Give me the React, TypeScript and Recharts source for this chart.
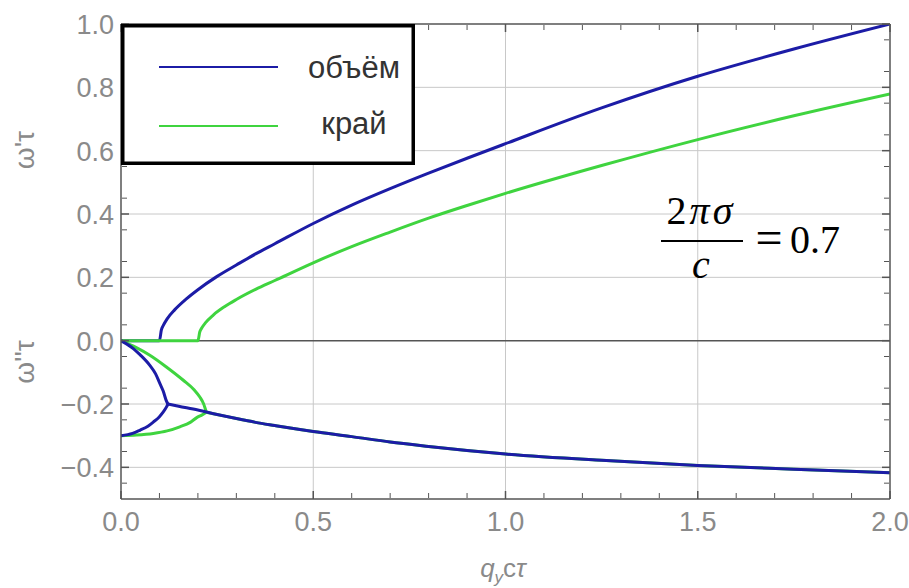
import React from 'react';
import { LineChart, Line, XAxis, YAxis, CartesianGrid, ReferenceLine, Legend } from 'recharts';

// axis ticks
const xTicks = [0, 0.5, 1, 1.5, 2];
const xMinorTicks = [0.1, 0.2, 0.3, 0.4, 0.6, 0.7, 0.8, 0.9, 1.1, 1.2, 1.3, 1.4, 1.6, 1.7, 1.8, 1.9];
const yTicks = [-0.4, -0.2, 0, 0.2, 0.4, 0.6, 0.8, 1];
const yMinorTicks = [
    -0.45, -0.35, -0.3, -0.25, -0.15, -0.1, -0.05, 0.05, 0.1, 0.15, 0.25, 0.3, 0.35,
    0.45, 0.5, 0.55, 0.65, 0.7, 0.75, 0.85, 0.9, 0.95,
];
const gridX = [0.5, 1, 1.5];
const gridY = [-0.4, -0.2, 0.2, 0.4, 0.6, 0.8];
const legendNames = ['объём', 'край'];

// объём (bulk), real part  [q, ω'τ]
const bulkRe = [
    [0, 0], [0.1, 0], [0.105, 0.034], [0.11, 0.048], [0.12, 0.069], [0.14, 0.098], [0.17, 0.132],
    [0.2, 0.161], [0.25, 0.203], [0.3, 0.239], [0.35, 0.274], [0.4, 0.306], [0.5, 0.37],
    [0.6, 0.428], [0.7, 0.48], [0.8, 0.529], [0.9, 0.576], [1.0, 0.622], [1.25, 0.735],
    [1.5, 0.835], [1.75, 0.921], [2.0, 1.0],
];
// край (edge), real part
const edgeRe = [
    [0, 0], [0.2, 0], [0.205, 0.028], [0.21, 0.04], [0.22, 0.057], [0.24, 0.081], [0.27, 0.108],
    [0.3, 0.13], [0.35, 0.162], [0.4, 0.19], [0.5, 0.246], [0.6, 0.297], [0.7, 0.343],
    [0.8, 0.387], [0.9, 0.427], [1.0, 0.465], [1.25, 0.553], [1.5, 0.635], [1.75, 0.71], [2.0, 0.779],
];

// imaginary parts (ω''τ): two branches meeting, then one common tail
const bulkImUpper = [
    [0, 0], [0.032, -0.025], [0.05, -0.045], [0.075, -0.078], [0.09, -0.105], [0.101, -0.135],
    [0.11, -0.16], [0.118, -0.19], [0.122, -0.2],
];
const bulkImLower = [
    [0, -0.3], [0.03, -0.293], [0.049, -0.283], [0.07, -0.27], [0.084, -0.257], [0.1, -0.24],
    [0.11, -0.225], [0.118, -0.21], [0.122, -0.2],
];
const bulkImTail = [
    [0.122, -0.2], [0.15, -0.207], [0.2, -0.219], [0.25, -0.233], [0.3, -0.246], [0.35, -0.258],
    [0.4, -0.268], [0.5, -0.287], [0.6, -0.303], [0.7, -0.32], [0.8, -0.334], [0.9, -0.347],
    [1.0, -0.358], [1.25, -0.378], [1.5, -0.394], [1.75, -0.406], [2.0, -0.417],
];
const edgeImUpper = [
    [0, 0], [0.04, -0.022], [0.075, -0.046], [0.118, -0.083], [0.162, -0.125], [0.19, -0.155],
    [0.205, -0.178], [0.215, -0.2], [0.222, -0.226],
];
const edgeImLower = [
    [0, -0.3], [0.04, -0.298], [0.084, -0.293], [0.12, -0.285], [0.153, -0.272], [0.18, -0.258],
    [0.197, -0.243], [0.21, -0.235], [0.222, -0.226],
];
const edgeImTail = [
    [0.222, -0.226], [0.25, -0.233], [0.3, -0.246], [0.35, -0.258], [0.4, -0.268], [0.5, -0.287],
    [0.6, -0.303], [0.7, -0.32], [0.8, -0.334], [0.9, -0.347], [1.0, -0.358], [1.25, -0.378],
    [1.5, -0.394], [1.75, -0.406], [2.0, -0.417],
];

const BLUE = '#1c1ca6';
const GREEN = '#3fd43f';
const FRAME = '#555555';
const LABEL = '#8a8a8a';
const SANS = '"Liberation Sans", Arial, sans-serif';

const pts = (p: number[][]) => p.map(([x, y]) => ({ x, y }));
const fmt = (v: number) => (v < 0 ? '\u2212' : '') + Math.abs(v).toFixed(1);

const XTick = (props: any) => (
    <text x={props.x} y={props.y + 42} textAnchor="middle" fill={LABEL} fontSize={27} fontFamily={SANS}>
        {fmt(props.payload.value)}
    </text>
);
const YTick = (props: any) => (
    <text x={props.x - 17} y={props.y + 10} textAnchor="end" fill={LABEL} fontSize={27} fontFamily={SANS}>
        {fmt(props.payload.value)}
    </text>
);
const NoTick = () => <g />;

const LegendBox = (props: any) => {
    const payload = props.payload || [];
    const rows = [{ line: 43, text: 54 }, { line: 102, text: 110 }];
    return (
        <svg width={294} height={141} style={{ display: 'block' }}>
            <rect x={1.75} y={1.75} width={290.5} height={137.5} fill="#fff" stroke="#000" strokeWidth={3.5} />
            {legendNames.map((name, i) => {
                const it = payload.find((p: any) => p.value === name);
                const color = it ? it.color : i === 0 ? BLUE : GREEN;
                return (
                    <g key={name}>
                        <line x1={38} x2={157} y1={rows[i].line} y2={rows[i].line} stroke={color} strokeWidth={2} />
                        <text x={233} y={rows[i].text} textAnchor="middle" fill="#333" fontSize={31} fontFamily={SANS}>
                            {name}
                        </text>
                    </g>
                );
            })}
        </svg>
    );
};

const lineProps = {
    xAxisId: 'x',
    yAxisId: 'y',
    dataKey: 'y',
    type: 'monotone' as const,
    dot: false,
    activeDot: false,
    strokeWidth: 3,
    isAnimationActive: false,
};

// every axis is mirrored with a 1px size, so they all sit on the plot frame
const xAxisBase = {
    dataKey: 'x',
    type: 'number' as const,
    domain: [0, 2],
    allowDataOverflow: true,
    mirror: true,
    height: 1,
    stroke: FRAME,
};
const yAxisBase = {
    type: 'number' as const,
    domain: [-0.5, 1],
    allowDataOverflow: true,
    mirror: true,
    width: 1,
    stroke: FRAME,
};

export default function App() {
    return (
        <div style={{ position: 'absolute', left: 0, top: 0, width: 909, height: 588, background: '#fff' }}>
            <LineChart width={909} height={588} margin={{ top: 24, right: 19, bottom: 89, left: 121 }}>
                <CartesianGrid
                    xAxisId="x"
                    yAxisId="y"
                    stroke="#c8c8c8"
                    horizontalValues={gridY}
                    verticalValues={gridX}
                />
                <XAxis xAxisId="x" {...xAxisBase} ticks={xTicks} tickSize={8} tick={XTick} strokeWidth={1.5} />
                <XAxis xAxisId="xm" {...xAxisBase} ticks={xMinorTicks} tickSize={5} tick={NoTick} axisLine={false} />
                <XAxis xAxisId="xt" orientation="top" {...xAxisBase} ticks={xTicks} tickSize={8} tick={NoTick} strokeWidth={1.5} />
                <XAxis xAxisId="xtm" orientation="top" {...xAxisBase} ticks={xMinorTicks} tickSize={5} tick={NoTick} axisLine={false} />
                <YAxis yAxisId="y" {...yAxisBase} ticks={yTicks} tickSize={8} tick={YTick} strokeWidth={1.5} />
                <YAxis yAxisId="ym" {...yAxisBase} ticks={yMinorTicks} tickSize={5} tick={NoTick} axisLine={false} />
                <YAxis yAxisId="yr" orientation="right" {...yAxisBase} ticks={yTicks} tickSize={8} tick={NoTick} strokeWidth={1.5} />
                <YAxis yAxisId="yrm" orientation="right" {...yAxisBase} ticks={yMinorTicks} tickSize={5} tick={NoTick} axisLine={false} />

                <ReferenceLine xAxisId="x" yAxisId="y" y={0} stroke={FRAME} strokeWidth={1.5} />

                <Line {...lineProps} data={pts(bulkRe)} name="объём" stroke={BLUE} />
                <Line {...lineProps} data={pts(edgeRe)} name="край" stroke={GREEN} />
                <Line {...lineProps} data={pts(edgeImUpper)} stroke={GREEN} legendType="none" />
                <Line {...lineProps} data={pts(edgeImLower)} stroke={GREEN} legendType="none" />
                <Line {...lineProps} data={pts(edgeImTail)} stroke={GREEN} legendType="none" />
                <Line {...lineProps} data={pts(bulkImUpper)} stroke={BLUE} legendType="none" />
                <Line {...lineProps} data={pts(bulkImLower)} stroke={BLUE} legendType="none" />
                <Line {...lineProps} data={pts(bulkImTail)} stroke={BLUE} legendType="none" />

                <Legend
                    layout="horizontal"
                    verticalAlign="middle"
                    align="center"
                    content={LegendBox}
                    wrapperStyle={{ left: 121, top: 24, width: 294, height: 141 }}
                />
            </LineChart>

            {/* axis titles and the parameter note */}
            <svg width={909} height={588} style={{ position: 'absolute', left: 0, top: 0, pointerEvents: 'none' }}>
                <text transform="translate(34,150) rotate(-90)" textAnchor="middle" fill={LABEL} fontSize={28} fontFamily={SANS}>
                    ω'τ
                </text>
                <text transform="translate(34,362) rotate(-90)" textAnchor="middle" fill={LABEL} fontSize={28} fontFamily={SANS}>
                    ω''τ
                </text>
                <text x={503} y={577} textAnchor="middle" fill={LABEL} fontSize={26} fontFamily={SANS}>
                    <tspan fontStyle="italic">q</tspan>
                    <tspan fontSize={17} dy={6} fontStyle="italic">y</tspan>
                    <tspan dy={-6}>c</tspan>
                    <tspan fontStyle="italic">τ</tspan>
                </text>
                <g fontFamily='"Liberation Serif", "Times New Roman", serif' fontSize={40} fill="#000">
                    <text x={701} y={224} textAnchor="middle" letterSpacing={3}>
                        2<tspan fontStyle="italic">πσ</tspan>
                    </text>
                    <line x1={661} x2={743} y1={241} y2={241} stroke="#000" strokeWidth={2} />
                    <text x={701} y={278} textAnchor="middle" fontStyle="italic">c</text>
                    <text x={769} y={254} textAnchor="middle" fontSize={48}>=</text>
                    <text x={790} y={253}>0.7</text>
                </g>
            </svg>
        </div>
    );
}
